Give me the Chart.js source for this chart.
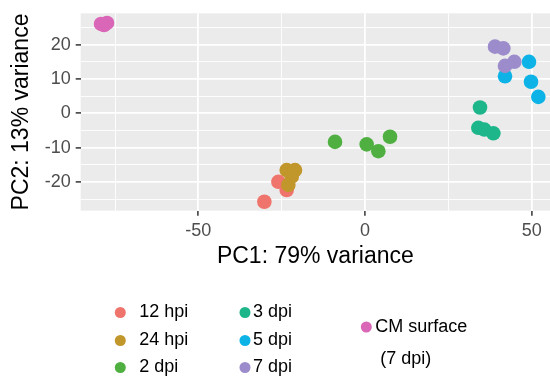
<!DOCTYPE html>
<html>
<head>
<meta charset="utf-8">
<script src="https://cdn.jsdelivr.net/npm/chart.js@4.4.0/dist/chart.umd.min.js"></script>
<style>
  html, body { margin: 0; padding: 0; background: #fff; overflow: hidden; }
  #wrap { width: 550px; height: 381px; position: relative; }
</style>
</head>
<body>
<div id="wrap"><canvas id="pcaChart"></canvas></div>
<script>
// groups, in plotting order (later ones sit on top)
const groupNames = ['12 hpi', '24 hpi', '2 dpi', '3 dpi', '5 dpi', '7 dpi', 'CM surface (7 dpi)'];
const groupColors = ['#EF746C', '#C1962A', '#4FB041', '#1DB68B', '#0DB3E6', '#9C8CCB', '#D966B7'];

// PC1 / PC2 coordinates
const hpi12X = [-30.2, -26.0, -23.5];
const hpi12Y = [-25.7, -19.9, -22.3];
const hpi24X = [-23.5, -21.0, -22.0, -23.0];
const hpi24Y = [-16.5, -16.5, -18.4, -20.8];
const dpi2X = [-9.0, 0.5, 4.0, 7.5];
const dpi2Y = [-8.3, -9.0, -11.0, -6.8];
const dpi3X = [34.5, 34.0, 35.8, 38.5];
const dpi3Y = [1.7, -4.2, -4.7, -5.8];
const dpi5X = [49.2, 49.8, 52.0, 42.0];
const dpi5Y = [15.0, 9.2, 4.8, 10.8];
const dpi7X = [39.0, 41.5, 42.0, 44.8];
const dpi7Y = [19.4, 18.9, 13.8, 15.0];
const cmX = [-79.2, -78.3, -77.4];
const cmY = [26.0, 25.7, 26.3];

const xTickLabels = [-50, 0, 50];
const yTickLabels = [-20, -10, 0, 10, 20];

const groupX = [hpi12X, hpi24X, dpi2X, dpi3X, dpi5X, dpi7X, cmX];
const groupY = [hpi12Y, hpi24Y, dpi2Y, dpi3Y, dpi5Y, dpi7Y, cmY];

const FONT = '"Liberation Sans", Arial, Helvetica, sans-serif';

// major ticks plus the ggplot-style minor lines halfway between them
function withMinor(major, min, max) {
    const step = major[1] - major[0];
    const vals = major.slice();
    major.forEach(v => { vals.push(v - step / 2); vals.push(v + step / 2); });
    return [...new Set(vals)].filter(v => v >= min && v <= max).sort((a, b) => a - b);
}

function axisOptions(major, min, max, size, titleText, titlePad) {
    const isMajor = v => major.includes(v);
    return {
        type: 'linear',
        min: min,
        max: max,
        afterBuildTicks: scale => {
            scale.ticks = withMinor(major, min, max).map(v => ({ value: v }));
        },
        afterFit: scale => {
            if (scale.isHorizontal()) scale.height = size; else scale.width = size;
            scale.paddingLeft = 0;
            scale.paddingRight = 0;
            scale.paddingTop = 0;
            scale.paddingBottom = 0;
        },
        border: { display: false },
        grid: {
            color: '#ffffff',
            lineWidth: ctx => isMajor(ctx.tick.value) ? 1.8 : 0.9,
            tickColor: ctx => isMajor(ctx.tick.value) ? '#333333' : 'rgba(0,0,0,0)',
            tickWidth: 1.5,
            tickLength: 5
        },
        ticks: {
            autoSkip: false,
            maxRotation: 0,
            padding: 5,
            color: '#4D4D4D',
            font: { family: FONT, size: 18 },
            callback: value => isMajor(value) ? String(value) : ''
        },
        title: {
            display: true,
            text: titleText,
            color: '#000000',
            font: { family: FONT, size: 23 },
            padding: titlePad
        }
    };
}

const panelPlugin = {
    id: 'panelBackground',
    beforeDraw(chart) {
        const { ctx, chartArea: a } = chart;
        ctx.save();
        ctx.fillStyle = '#EBEBEB';
        ctx.fillRect(a.left, a.top, a.right - a.left, a.bottom - a.top);
        ctx.restore();
    }
};

// three-column key under the plot, like the original
const keyPlugin = {
    id: 'keyBelow',
    afterDraw(chart) {
        const c = chart.ctx;
        const colDot = [120.3, 245, 366.3];
        const colGap = [19, 8, 9];
        const rowY = [312.5, 340.5, 367.5];
        c.save();
        c.font = '18px ' + FONT;
        c.textBaseline = 'middle';
        c.fillStyle = '#000';
        groupNames.forEach((name, i) => {
            const col = Math.min(Math.floor(i / 3), 2);
            const lines = col === 2 ? name.replace(' (', '\n(').split('\n') : [name];
            const y = col === 2 ? 327 : rowY[i % 3];
            c.beginPath();
            c.fillStyle = groupColors[i];
            c.arc(colDot[col], y, 5.5, 0, Math.PI * 2);
            c.fill();
            c.fillStyle = '#000';
            lines.forEach((line, k) => {
                c.fillText(line, colDot[col] + colGap[col] + (k ? 5 : 0), y + k * 32);
            });
        });
        c.restore();
    }
};

const datasets = groupNames.map((name, i) => ({
    label: name,
    data: groupX[i].map((x, j) => ({ x: x, y: groupY[i][j] })),
    backgroundColor: groupColors[i],
    borderWidth: 0,
    pointRadius: 7.3,
    pointHoverRadius: 7.3,
    order: groupNames.length - i
}));

new Chart(document.getElementById('pcaChart'), {
    type: 'scatter',
    data: { datasets: datasets },
    options: {
        responsive: true,
        maintainAspectRatio: false,
        animation: false,
        layout: { autoPadding: false, padding: { left: 0, top: 13.3, right: 0, bottom: 100 } },
        plugins: {
            legend: { display: false },
            tooltip: { enabled: false }
        },
        scales: {
            x: axisOptions(xTickLabels, -85.3, 55.5, 70.3, 'PC1: 79% variance', { top: 0, bottom: 10.5 }),
            y: axisOptions(yTickLabels, -28.3, 29.1, 80.7, 'PC2: 13% variance', { top: 8, bottom: 0 })
        }
    },
    plugins: [panelPlugin, keyPlugin]
});
</script>
</body>
</html>
